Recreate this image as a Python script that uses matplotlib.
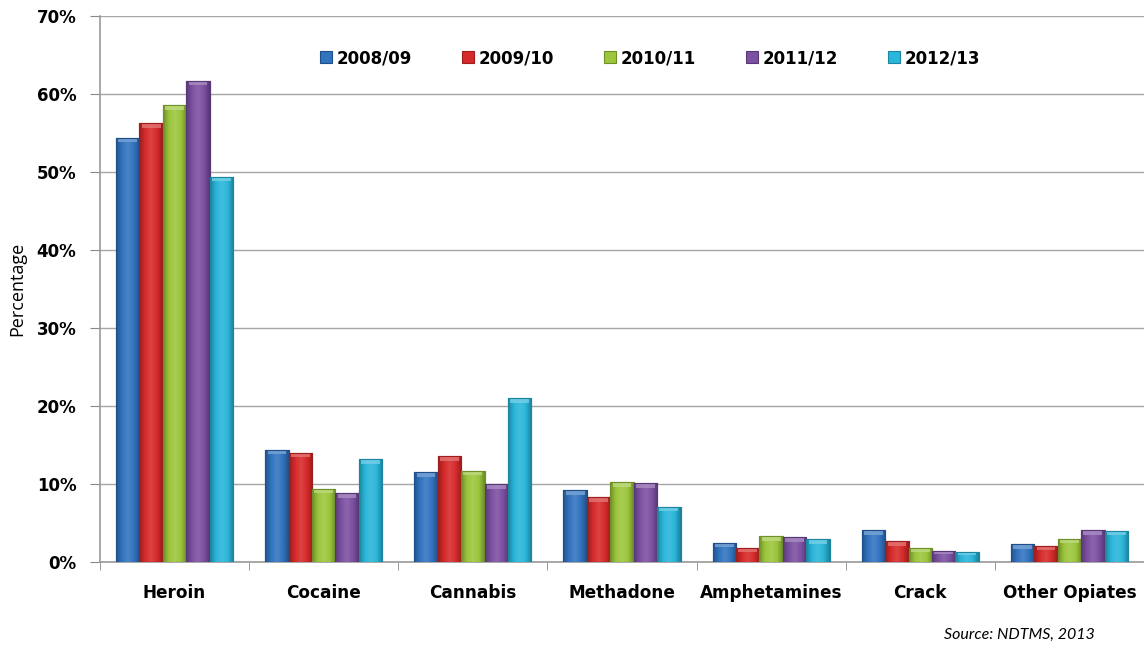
import matplotlib
matplotlib.use("Agg")
import matplotlib.pyplot as plt
import numpy as np
from matplotlib.colors import LinearSegmentedColormap, to_rgb

categories = ["Heroin", "Cocaine", "Cannabis", "Methadone", "Amphetamines", "Crack", "Other Opiates"]
years = ["2008/09", "2009/10", "2010/11", "2011/12", "2012/13"]
v2008 = [54.4, 14.4, 11.5, 9.2, 2.5, 4.1, 2.3]
v2009 = [56.3, 14.0, 13.6, 8.3, 1.8, 2.7, 2.1]
v2010 = [58.6, 9.4, 11.7, 10.2, 3.3, 1.8, 3.0]
v2011 = [61.7, 8.8, 10.0, 10.1, 3.2, 1.4, 4.1]
v2012 = [49.4, 13.2, 21.0, 7.1, 2.9, 1.3, 4.0]
series = [v2008, v2009, v2010, v2011, v2012]
colors = ["#3274C0", "#D62A2A", "#9CC63C", "#7C50A2", "#2AB6DA"]
edges = ["#1F4F88", "#9E1E1E", "#6E9028", "#573775", "#1C86A2"]


def shade(c, f):
    r, g, b = to_rgb(c)
    if f < 1:
        return (r * f, g * f, b * f)
    return (r + (1 - r) * (f - 1), g + (1 - g) * (f - 1), b + (1 - b) * (f - 1))


fig = plt.figure(figsize=(11.44, 6.45), dpi=100)
ax = fig.add_axes([100/1144, 1-562/645, 1044/1144, 546/645])

x = np.arange(len(categories))
w = 0.157
grad = np.linspace(0, 1, 64).reshape(1, -1)
for i, (vals, c, ec) in enumerate(zip(series, colors, edges)):
    offs = (i - 2) * w
    bars = ax.bar(x + offs, vals, width=w, color=c, edgecolor=ec, linewidth=0.8,
                  label=years[i], zorder=3)
    cmap = LinearSegmentedColormap.from_list(
        "g%d" % i, [shade(c, 0.72), shade(c, 1.0), shade(c, 1.12), shade(c, 1.0), shade(c, 0.7)])
    for b in bars:
        x0, y0 = b.get_x(), b.get_y()
        bw, bh = b.get_width(), b.get_height()
        im = ax.imshow(grad, cmap=cmap, aspect="auto", extent=(x0, x0 + bw, y0, y0 + bh),
                       zorder=3.5, interpolation="bicubic")
        im.set_clip_path(b)
        cap = min(0.6, bh * 0.3)
        ax.bar(x0 + bw / 2, cap, bottom=y0 + bh - cap,
               width=bw * 0.8, color=shade(c, 1.35), linewidth=0, zorder=3.6, alpha=0.8)
        ax.bar(x0 + bw / 2, bh, bottom=y0, width=bw, fill=False, edgecolor=ec,
               linewidth=0.8, zorder=3.7)

ax.set_xlim(-0.5, len(categories) - 0.5)
ax.set_ylim(0, 70)
ax.set_yticks(np.arange(0, 71, 10))
ax.set_yticklabels([f"{v}%" for v in range(0, 71, 10)], fontsize=12, fontweight="bold")
ax.set_xticks(x)
ax.set_xticklabels(categories, fontsize=12.2, fontweight="bold")
ax.tick_params(axis="x", length=0, pad=16)
ax.set_xticks(np.arange(-0.5, len(categories)), minor=True)
ax.tick_params(axis="x", which="minor", length=6, color="#888888", direction="out")
ax.tick_params(axis="y", length=7, color="#888888", pad=10)
ax.grid(axis="y", color="#A6A6A6", linewidth=1.0, zorder=0)
for s in ["top", "right"]:
    ax.spines[s].set_visible(False)
ax.spines["left"].set_color("#999999")
ax.spines["bottom"].set_color("#999999")
ax.spines["left"].set_linewidth(1.2)
ax.spines["bottom"].set_linewidth(1.2)

ax.set_ylabel("Percentage", fontsize=13, family="Open Sans")
ax.yaxis.set_label_coords(-0.071, 0.5)

leg = ax.legend(ncol=5, loc="upper center", bbox_to_anchor=(0.527, 0.967), frameon=False,
                prop={"weight": "bold", "size": 12}, handlelength=0.7, handleheight=0.7,
                columnspacing=3.0, handletextpad=0.3)

fig.text(1095/1144, 1-635/645, "Source: NDTMS, 2013", ha="right", va="center",
         fontsize=11.5, style="italic", family="Lato")

fig.savefig("out.png", dpi=100)
